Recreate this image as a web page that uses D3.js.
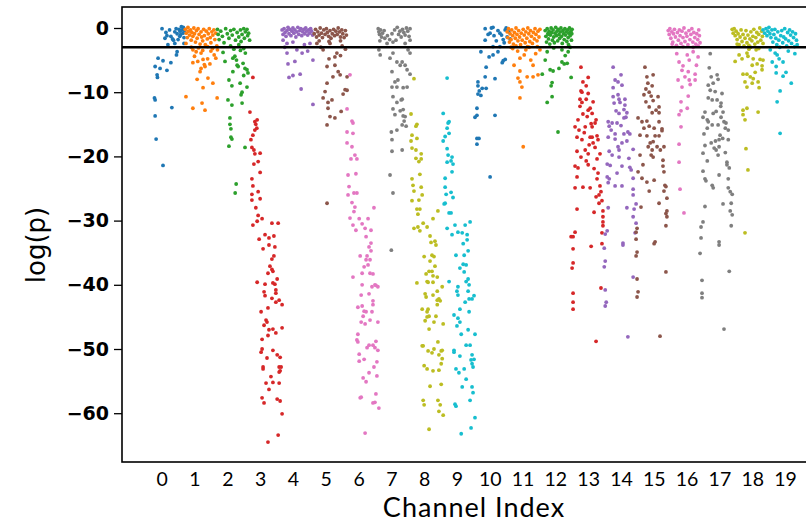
<!DOCTYPE html>
<html>
<head>
<meta charset="utf-8">
<script src="https://cdn.jsdelivr.net/npm/d3@7"></script>
<style>
  body { margin: 0; background: #fff; }
</style>
</head>
<body>
<svg id="chart" width="806" height="523"></svg>
<script>
// points per channel: [horizontal jitter around the channel, log(p)]
const ch0 = [[0.01,-0.1],[0.13,-0.7],[0.10,-1.6],[0.16,-1.2],[0.28,-1.3],[0.40,-0.6],[0.47,-0.9],[0.53,-0.2],[0.56,-0.5],[0.58,-1.0],[0.60,0.2],[0.62,-0.3],[0.65,-0.8],[0.68,-1.5],[0.50,-1.8],[0.44,-0.1],[0.36,-1.9],[0.70,-0.4],[0.66,0.1],[0.55,-1.3],[0.19,-2.6],[0.40,-2.4],[0.68,-2.4],[0.47,-3.7],[0.45,-4.2],[-0.11,-4.7],[0.04,-5.1],[0.28,-5.4],[-0.2,-6.0],[-0.05,-6.3],[0.16,-6.6],[-0.14,-7.3],[-0.13,-7.7],[-0.22,-10.9],[-0.2,-11.2],[0.31,-12.4],[-0.2,-13.7],[-0.17,-17.3],[0.04,-21.4],[0.24,-0.3],[0.33,-1.7]]
const ch1 = [[-0.28,-0.2],[-0.25,-0.8],[-0.22,-1.5],[-0.2,0.1],[-0.18,-0.5],[-0.15,-1.1],[-0.12,-0.3],[-0.1,-1.9],[-0.08,-0.7],[-0.05,-1.3],[-0.02,0.0],[0.0,-0.9],[0.03,-2.2],[0.06,-0.4],[0.08,-1.6],[0.11,-0.1],[0.14,-1.0],[0.17,-2.5],[0.2,-0.6],[0.22,-1.4],[0.25,-2.0],[0.28,-0.2],[0.3,-1.2],[0.33,-2.6],[0.36,-0.5],[0.39,-1.7],[0.42,-0.9],[0.45,-0.1],[0.48,-1.5],[0.5,-2.3],[0.53,-0.6],[0.56,-1.1],[0.59,-0.3],[0.62,-1.8],[0.65,-0.8],[0.68,-2.8],[-0.26,-2.4],[-0.1,-3.0],[0.12,-3.1],[0.4,-2.9],[-0.05,-3.4],[0.05,-3.7],[0.2,-3.9],[0.25,-3.5],[0.5,-3.6],[0.6,-4.2],[0.65,-4.7],[0.26,-4.9],[0.4,-4.8],[-0.05,-5.4],[0.1,-5.2],[0.47,-5.6],[0.32,-6.0],[0.2,-6.3],[0.17,-6.8],[0.08,-8.0],[0.41,-7.8],[0.56,-8.6],[0.26,-9.3],[-0.26,-10.7],[0.69,-10.9],[0.23,-11.7],[-0.05,-12.5],[0.32,-12.8],[0.3,-5.7],[0.0,-4.4],[0.55,-3.2],[0.7,-3.4]]
const ch2 = [[-0.3,-0.2],[-0.28,-1.0],[-0.25,-1.8],[-0.2,-0.5],[-0.15,-1.3],[-0.1,-2.3],[-0.05,-0.1],[0.0,-0.9],[0.05,-1.6],[0.1,-0.4],[0.15,-1.1],[0.2,-0.2],[0.25,-1.9],[0.3,-0.7],[0.35,-1.4],[0.4,-0.3],[0.42,-2.1],[0.45,-1.0],[0.5,-0.1],[0.52,-1.6],[0.55,-0.6],[0.6,-0.2],[0.62,-1.2],[0.65,-0.8],[0.68,-1.9],[0.35,-2.6],[0.1,-2.8],[-0.13,-3.8],[0.5,-3.2],[0.4,-3.5],[0.55,-3.9],[0.17,-4.7],[0.23,-4.4],[-0.07,-5.2],[0.28,-5.0],[0.33,-6.0],[0.48,-5.5],[0.54,-6.3],[0.6,-6.5],[0.63,-7.0],[0.17,-6.8],[0.3,-5.8],[0.05,-8.1],[0.14,-9.0],[0.39,-8.6],[0.6,-9.2],[0.45,-10.0],[0.42,-10.4],[0.02,-11.2],[0.14,-12.0],[0.45,-11.7],[0.08,-14.0],[0.08,-15.0],[0.11,-15.7],[0.11,-17.0],[0.14,-17.3],[0.05,-18.4],[0.54,-18.6],[0.27,-24.3],[0.24,-25.7],[0.5,-7.4],[0.2,-3.3]]
const ch3 = [[-0.22,-7.7],[-0.31,-13.1],[-0.16,-14.6],[-0.09,-14.3],[-0.13,-15.0],[-0.16,-15.9],[-0.1,-15.6],[-0.22,-16.7],[-0.28,-17.4],[-0.25,-18.6],[-0.19,-19.0],[-0.16,-19.6],[0.0,-19.5],[-0.06,-20.8],[-0.19,-21.2],[0.0,-22.5],[-0.25,-23.5],[-0.22,-24.6],[-0.06,-25.5],[-0.25,-25.9],[-0.25,-26.8],[0.0,-26.6],[-0.13,-28.0],[-0.06,-29.2],[0.06,-29.7],[-0.09,-30.1],[-0.22,-30.7],[0.36,-30.4],[0.55,-30.4],[-0.03,-32.9],[0.27,-32.7],[0.15,-32.2],[0.42,-32.4],[0.27,-33.8],[0.09,-34.4],[0.45,-34.1],[0.42,-35.5],[0.36,-36.0],[0.3,-37.1],[0.39,-37.9],[0.24,-38.2],[0.36,-37.6],[0.52,-39.1],[-0.09,-39.6],[0.15,-39.9],[0.45,-39.9],[0.39,-39.7],[0.48,-40.8],[0.12,-41.1],[0.48,-41.3],[0.15,-41.7],[0.36,-42.1],[0.58,-42.4],[0.48,-42.7],[0.67,-43.1],[0.24,-43.6],[0.03,-44.2],[0.18,-45.5],[0.21,-45.8],[0.12,-46.3],[0.27,-47.0],[0.39,-46.9],[0.67,-46.7],[0.48,-47.5],[0.24,-47.9],[0.06,-48.5],[0.06,-50.0],[0.39,-50.2],[0.03,-50.5],[0.52,-50.9],[0.61,-51.3],[0.21,-51.4],[0.09,-52.8],[0.09,-53.1],[0.58,-52.8],[0.64,-52.8],[0.61,-53.4],[0.58,-53.6],[0.33,-54.3],[0.18,-55.3],[0.39,-55.2],[0.58,-55.3],[0.27,-56.3],[0.06,-57.6],[0.52,-57.8],[0.61,-58.1],[0.12,-58.4],[0.67,-60.1],[0.55,-63.4],[0.24,-64.5]]
const ch4 = [[-0.33,-0.3],[-0.3,-1.0],[-0.27,-0.1],[-0.24,-0.7],[-0.21,-1.3],[-0.18,-0.4],[-0.15,0.1],[-0.12,-0.9],[-0.09,-0.2],[-0.06,-1.2],[-0.03,-0.5],[0.0,0.0],[0.03,-0.8],[0.06,-0.3],[0.09,-1.4],[0.12,-0.6],[0.15,0.1],[0.18,-1.0],[0.21,-0.4],[0.24,-0.1],[0.27,-1.2],[0.3,-0.6],[0.33,-0.2],[0.36,-0.9],[0.39,0.0],[0.42,-0.5],[0.45,-1.1],[0.48,-0.3],[0.51,-0.8],[0.54,-0.1],[0.57,-0.5],[0.6,-1.1],[-0.18,-2.4],[0.0,-2.2],[-0.18,-3.9],[0.12,-3.4],[0.28,-3.9],[0.52,-2.4],[0.45,-3.6],[0.61,-5.0],[0.06,-5.2],[-0.15,-5.6],[0.22,-7.2],[0.0,-7.4],[-0.12,-7.7],[0.25,-9.5],[0.61,-11.9],[0.35,-2.6],[-0.3,-1.9],[-0.25,-3.0]]
const ch5 = [[-0.35,-0.9],[-0.31,-0.2],[-0.28,-1.4],[-0.24,-0.6],[-0.2,-1.1],[-0.17,0.0],[-0.13,-0.8],[-0.1,-1.5],[-0.06,-0.3],[-0.02,-1.0],[0.02,-0.1],[0.05,-0.7],[0.09,-1.3],[0.13,-0.4],[0.16,-1.6],[0.2,-0.9],[0.24,-0.2],[0.27,-1.2],[0.31,-0.5],[0.35,-1.0],[0.38,0.0],[0.42,-0.6],[0.45,-1.4],[0.49,-0.3],[0.52,-0.9],[0.56,-1.5],[0.6,-0.4],[0.63,-1.1],[0.45,-2.0],[0.1,-2.1],[-0.27,-2.4],[0.13,-2.4],[-0.08,-3.4],[0.34,-3.9],[0.28,-4.5],[0.04,-6.0],[0.28,-5.8],[0.38,-6.8],[0.22,-7.6],[0.44,-7.3],[0.65,-7.6],[0.04,-8.6],[-0.02,-9.9],[0.53,-10.3],[0.65,-9.7],[-0.08,-10.9],[0.19,-11.2],[0.07,-11.6],[0.07,-12.5],[0.47,-13.0],[0.13,-13.8],[0.28,-14.0],[0.04,-15.1],[0.59,-9.6],[0.04,-27.3],[-0.2,-2.0],[0.5,-2.8],[0.1,-4.8],[-0.15,-3.0],[0.45,-4.3],[0.6,-3.3]]
const ch6 = [[-0.26,-7.3],[-0.35,-12.6],[-0.2,-14.5],[-0.17,-14.8],[-0.35,-16.2],[-0.17,-16.4],[-0.35,-17.9],[-0.2,-18.5],[-0.11,-19.8],[-0.05,-20.4],[-0.23,-20.4],[-0.32,-22.9],[-0.08,-22.7],[-0.29,-24.7],[-0.14,-25.7],[-0.05,-25.7],[-0.32,-26.0],[-0.2,-27.2],[-0.11,-27.9],[-0.14,-28.6],[0.47,-28.0],[-0.26,-29.6],[0.02,-29.7],[0.29,-29.7],[-0.17,-30.7],[0.11,-30.5],[-0.08,-31.5],[0.2,-31.2],[0.38,-31.5],[0.23,-32.5],[0.38,-33.5],[0.32,-34.1],[0.38,-34.7],[0.05,-35.5],[0.26,-35.5],[0.23,-36.1],[0.35,-36.1],[0.17,-37.2],[0.29,-36.9],[0.11,-38.2],[0.35,-38.2],[0.44,-38.3],[-0.17,-38.8],[0.11,-40.0],[0.5,-40.0],[0.59,-40.3],[0.41,-40.3],[0.53,-40.1],[0.08,-41.6],[0.32,-41.4],[0.44,-42.5],[-0.02,-43.5],[0.11,-43.3],[0.44,-43.1],[0.17,-44.1],[0.23,-44.2],[0.14,-44.9],[0.41,-44.2],[0.08,-45.8],[0.35,-45.5],[0.2,-46.1],[0.59,-45.8],[-0.02,-47.7],[-0.05,-48.6],[-0.02,-48.9],[0.32,-49.4],[0.44,-49.4],[0.53,-48.8],[0.26,-49.8],[0.5,-49.8],[0.59,-50.2],[0.02,-50.8],[0.17,-51.6],[0.02,-51.9],[0.56,-52.0],[0.47,-52.8],[0.32,-53.7],[0.56,-54.2],[0.14,-54.5],[0.23,-55.1],[0.05,-57.6],[0.08,-57.5],[0.53,-57.0],[0.5,-58.3],[0.44,-58.4],[0.62,-59.2],[0.2,-63.1]]
const ch7 = [[-0.4,-0.1],[-0.38,-0.6],[-0.36,-1.0],[-0.33,-0.3],[-0.3,-1.4],[-0.27,-0.8],[-0.2,-1.6],[-0.12,-1.2],[-0.05,-1.8],[0.02,-0.9],[0.1,-0.3],[0.18,0.1],[0.22,-1.0],[0.26,-0.5],[0.3,-1.4],[0.34,-0.2],[0.38,-0.7],[0.42,-1.1],[0.46,0.0],[0.5,-0.5],[0.54,-1.3],[0.57,-0.1],[-0.22,-0.4],[0.14,-1.9],[-0.35,-2.0],[-0.13,-2.4],[0.05,-2.2],[0.42,-2.4],[0.57,-1.9],[-0.38,-3.4],[0.05,-3.9],[-0.34,-4.2],[0.51,-3.4],[0.57,-3.9],[-0.04,-4.7],[0.17,-5.3],[0.33,-5.3],[0.27,-5.8],[0.42,-5.8],[0.48,-6.5],[0.02,-6.8],[0.57,-7.2],[0.2,-8.1],[0.11,-8.4],[0.17,-9.2],[0.02,-9.2],[0.36,-9.3],[0.48,-9.2],[0.05,-10.7],[0.33,-11.1],[0.17,-11.6],[0.3,-11.2],[0.36,-12.7],[0.05,-12.6],[0.27,-12.9],[0.11,-13.5],[0.42,-13.8],[0.36,-13.7],[0.39,-14.5],[0.33,-15.1],[0.45,-15.3],[0.17,-15.9],[0.0,-16.2],[0.02,-17.4],[0.02,-19.2],[0.33,-19.0],[-0.04,-22.9],[0.05,-25.7],[0.0,-34.6]]
const ch8 = [[-0.31,-7.9],[-0.4,-13.4],[-0.22,-15.0],[-0.25,-15.3],[-0.37,-16.7],[-0.22,-17.2],[-0.4,-17.6],[-0.37,-18.7],[-0.25,-19.0],[-0.09,-19.6],[-0.25,-20.3],[-0.16,-20.8],[-0.09,-20.4],[-0.13,-22.8],[-0.37,-23.5],[-0.34,-24.5],[-0.09,-24.8],[-0.31,-25.4],[-0.06,-26.0],[-0.37,-26.9],[-0.16,-26.8],[-0.22,-28.2],[-0.13,-28.2],[0.42,-28.5],[0.27,-29.7],[-0.19,-29.0],[-0.31,-31.2],[-0.19,-31.0],[-0.03,-30.4],[0.09,-31.0],[-0.13,-31.6],[0.18,-32.4],[0.33,-33.2],[0.21,-33.4],[0.36,-33.8],[0.24,-35.4],[0.0,-35.6],[0.3,-35.6],[0.18,-36.3],[0.33,-37.1],[0.15,-37.9],[0.24,-37.9],[0.06,-38.3],[0.27,-38.6],[0.4,-38.8],[0.12,-39.6],[0.27,-39.6],[-0.22,-39.7],[0.09,-39.5],[0.55,-40.3],[0.4,-41.0],[0.03,-41.4],[0.27,-41.6],[0.45,-42.2],[0.06,-41.9],[0.4,-42.4],[0.49,-42.5],[0.4,-43.1],[-0.06,-43.8],[0.09,-44.2],[0.12,-43.8],[0.09,-45.0],[0.15,-44.9],[0.36,-44.9],[0.03,-45.6],[0.3,-45.8],[0.58,-46.1],[0.15,-46.9],[0.42,-48.9],[-0.06,-49.5],[-0.03,-49.5],[0.12,-50.3],[0.24,-50.6],[0.3,-50.0],[0.52,-50.3],[0.55,-50.2],[0.45,-50.9],[0.55,-51.5],[0.52,-52.3],[0.0,-52.6],[0.09,-53.1],[0.27,-53.4],[0.45,-53.3],[0.18,-55.8],[0.52,-55.5],[-0.03,-58.0],[0.42,-58.0],[0.0,-58.7],[0.49,-58.7],[0.45,-59.7],[0.58,-60.3],[0.15,-62.5]]
const ch9 = [[-0.3,-7.8],[-0.42,-13.3],[-0.27,-14.8],[-0.24,-14.6],[-0.3,-15.6],[-0.24,-16.4],[-0.36,-16.9],[-0.42,-17.6],[-0.3,-18.8],[-0.27,-19.8],[-0.15,-20.1],[-0.3,-20.9],[-0.18,-20.7],[-0.12,-21.2],[-0.15,-22.4],[-0.36,-23.4],[-0.36,-24.8],[-0.18,-25.6],[-0.33,-25.9],[-0.12,-26.4],[-0.36,-27.3],[-0.39,-27.4],[-0.24,-28.8],[-0.18,-28.8],[-0.3,-31.2],[-0.06,-30.7],[0.25,-30.7],[0.4,-30.2],[0.03,-31.8],[0.16,-31.9],[0.31,-32.2],[-0.15,-32.2],[0.31,-33.0],[0.19,-33.6],[0.34,-34.7],[-0.03,-35.4],[0.22,-35.4],[0.19,-36.8],[0.28,-36.9],[0.09,-37.4],[0.22,-38.0],[0.34,-39.1],[0.28,-39.5],[-0.24,-39.5],[0.03,-40.3],[0.0,-41.0],[0.37,-40.0],[0.34,-41.0],[0.03,-41.6],[0.52,-41.7],[0.46,-42.2],[0.37,-42.2],[0.25,-42.7],[0.09,-43.8],[0.37,-44.2],[-0.09,-44.7],[0.03,-45.2],[0.09,-45.8],[0.0,-46.4],[0.34,-47.0],[0.13,-47.7],[0.55,-47.7],[0.28,-49.4],[0.4,-49.4],[-0.09,-50.2],[-0.09,-50.5],[0.09,-51.1],[0.46,-50.9],[0.43,-51.7],[0.52,-51.6],[0.46,-52.3],[0.49,-52.8],[-0.03,-53.1],[0.22,-53.1],[0.06,-53.7],[0.28,-54.7],[0.16,-55.9],[0.46,-55.9],[0.49,-56.8],[0.4,-58.0],[-0.06,-58.6],[-0.03,-58.9],[0.55,-60.7],[0.43,-62.3],[0.13,-63.2]]
const ch10 = [[-0.14,-0.1],[0.1,0.1],[-0.05,-1.0],[0.13,-1.2],[-0.14,-1.9],[0.01,-0.8],[0.31,-0.8],[0.47,-0.3],[0.53,-1.4],[0.41,-1.8],[0.25,-0.4],[0.36,-1.1],[0.58,-0.6],[0.62,-1.7],[0.2,-2.0],[0.44,-2.3],[0.5,0.0],[0.05,0.0],[0.31,-2.9],[-0.27,-3.7],[0.1,-2.9],[0.25,-3.7],[0.1,-4.2],[-0.02,-4.5],[0.47,-4.9],[0.41,-5.1],[0.38,-5.4],[-0.11,-6.1],[-0.14,-7.6],[0.16,-7.9],[-0.36,-8.4],[-0.36,-9.0],[-0.23,-9.4],[-0.11,-9.4],[-0.36,-10.3],[-0.27,-10.5],[-0.32,-9.8],[-0.39,-12.5],[0.16,-13.6],[-0.39,-13.6],[-0.45,-13.9],[-0.39,-17.2],[-0.33,-17.2],[-0.39,-18.1],[0.01,-23.2]]
const ch11 = [[-0.47,-0.6],[-0.45,-1.5],[-0.43,-0.1],[-0.4,-2.2],[-0.38,-0.9],[-0.35,-1.8],[-0.33,-0.3],[-0.3,-1.2],[-0.28,-2.5],[-0.25,-0.7],[-0.22,-1.6],[-0.2,0.0],[-0.17,-1.0],[-0.14,-2.0],[-0.12,-0.4],[-0.09,-1.4],[-0.06,-2.6],[-0.04,-0.8],[-0.01,-1.9],[0.02,-0.2],[0.05,-1.1],[0.08,-2.3],[0.1,-0.6],[0.13,-1.6],[0.16,0.0],[0.19,-0.9],[0.22,-2.1],[0.24,-0.4],[0.27,-1.3],[0.3,-2.4],[0.33,-0.7],[0.36,-1.7],[0.38,-0.1],[0.41,-1.0],[0.44,-2.0],[0.47,-0.5],[0.5,-1.4],[0.53,-0.2],[-0.2,-2.8],[0.15,-2.9],[-0.26,-5.8],[-0.14,-7.8],[-0.08,-8.4],[-0.02,-9.2],[-0.08,-10.9],[0.14,-7.6],[0.32,-7.6],[0.47,-7.3],[0.32,-5.8],[-0.08,-4.7],[0.05,-4.2],[0.1,-3.4],[0.53,-3.4],[-0.08,-6.7],[0.02,-18.5],[-0.3,-3.2],[-0.15,-3.6],[0.2,-3.0],[0.4,-4.0],[0.25,-5.0],[-0.35,-3.0],[0.45,-2.9]]
const ch12 = [[-0.31,-0.4],[-0.29,-1.3],[-0.27,-2.2],[-0.25,-0.1],[-0.23,-0.9],[-0.21,-1.7],[-0.19,-0.5],[-0.17,-2.5],[-0.15,-1.1],[-0.13,0.0],[-0.11,-0.7],[-0.09,-1.9],[-0.07,-0.3],[-0.05,-1.4],[-0.03,-2.3],[-0.01,-0.8],[0.01,0.1],[0.03,-1.2],[0.05,-0.5],[0.07,-2.0],[0.09,-0.2],[0.11,-1.0],[0.13,-1.6],[0.15,-0.6],[0.17,0.0],[0.19,-1.3],[0.21,-2.4],[0.23,-0.4],[0.25,-0.9],[0.27,-1.8],[0.29,-0.1],[0.31,-1.1],[0.33,-0.6],[0.35,-2.1],[0.37,-0.3],[0.39,-1.5],[0.41,-0.8],[0.43,0.0],[0.45,-1.2],[0.47,-0.5],[0.49,-1.9],[0.51,-0.2],[0.5,-0.9],[0.4,-2.6],[-0.2,-1.0],[-0.31,-5.0],[-0.25,-3.7],[0.2,-3.4],[0.39,-3.7],[0.2,-5.3],[0.27,-5.6],[0.36,-5.5],[0.11,-6.3],[-0.16,-6.5],[-0.07,-6.7],[-0.4,-7.2],[0.48,-7.7],[-0.1,-8.5],[-0.13,-9.0],[-0.1,-10.7],[-0.25,-11.6],[0.08,-16.2],[0.3,-4.3],[-0.05,-3.1],[0.45,-3.0]]
const ch13 = [[-0.22,-6.1],[0.0,-7.7],[-0.16,-8.4],[-0.06,-9.0],[-0.22,-9.8],[-0.19,-10.0],[0.0,-10.2],[-0.06,-11.1],[-0.25,-11.1],[-0.19,-11.6],[0.15,-11.5],[0.0,-12.8],[0.06,-12.5],[0.12,-13.3],[-0.16,-13.4],[-0.31,-14.3],[-0.03,-13.8],[0.24,-14.3],[-0.4,-15.4],[-0.28,-15.9],[-0.09,-15.4],[0.12,-15.4],[0.21,-14.8],[-0.34,-17.0],[-0.19,-17.4],[0.06,-17.0],[0.12,-17.0],[0.27,-16.8],[0.3,-17.4],[0.15,-17.9],[-0.34,-19.2],[-0.09,-19.0],[0.0,-19.6],[0.21,-18.6],[0.36,-19.6],[-0.06,-20.7],[0.27,-20.4],[0.0,-21.3],[-0.4,-21.5],[-0.31,-21.8],[0.3,-22.6],[0.27,-23.5],[-0.34,-23.2],[-0.4,-24.9],[-0.16,-24.8],[0.06,-24.9],[0.36,-24.6],[0.33,-26.0],[0.39,-25.5],[0.33,-27.3],[0.42,-26.9],[-0.34,-28.2],[0.18,-28.7],[0.45,-28.5],[0.45,-29.4],[0.45,-30.2],[0.45,-30.8],[-0.4,-31.8],[-0.52,-32.5],[-0.46,-32.5],[0.42,-31.9],[0.09,-34.0],[0.42,-33.6],[-0.46,-34.4],[-0.46,-36.6],[-0.49,-37.4],[0.39,-40.5],[-0.46,-41.3],[-0.46,-42.7],[-0.46,-43.8],[0.24,-48.8],[-0.25,-12.2],[0.09,-14.9],[-0.12,-16.3],[0.03,-18.2],[0.18,-21.9],[-0.22,-20.1],[0.24,-26.3]]
const ch14 = [[-0.24,-6.1],[0.0,-7.3],[-0.18,-8.1],[-0.09,-8.4],[-0.24,-9.3],[0.03,-8.9],[-0.24,-10.7],[-0.09,-10.4],[-0.06,-11.1],[-0.21,-11.7],[-0.03,-11.6],[0.12,-11.1],[0.12,-12.0],[-0.15,-12.9],[-0.06,-13.3],[0.09,-12.7],[0.18,-13.2],[-0.39,-14.6],[-0.27,-14.8],[-0.36,-15.3],[-0.12,-14.8],[0.09,-14.0],[0.15,-13.9],[-0.3,-15.9],[-0.18,-16.5],[0.09,-16.5],[0.21,-16.2],[0.27,-16.5],[-0.39,-17.0],[-0.18,-17.3],[0.03,-17.9],[-0.09,-18.5],[0.18,-17.6],[-0.36,-19.2],[0.37,-18.9],[-0.06,-19.0],[-0.06,-20.1],[-0.42,-21.2],[-0.33,-21.4],[0.03,-21.5],[0.27,-21.7],[0.31,-22.1],[0.37,-23.4],[-0.42,-23.2],[-0.36,-23.5],[-0.39,-24.1],[-0.18,-24.6],[0.03,-24.6],[0.37,-25.1],[0.37,-26.0],[-0.39,-28.0],[0.18,-28.0],[0.4,-28.2],[0.46,-27.4],[0.37,-29.4],[0.46,-30.4],[0.43,-31.9],[-0.48,-32.1],[-0.42,-31.6],[0.06,-33.5],[0.06,-33.8],[-0.51,-34.3],[-0.48,-36.3],[-0.51,-37.2],[0.37,-38.8],[-0.48,-40.8],[-0.45,-42.7],[-0.48,-43.3],[0.21,-48.1],[0.0,-15.2],[-0.27,-19.8],[0.24,-20.3],[-0.12,-22.6]]
const ch15 = [[-0.27,-6.1],[-0.21,-7.6],[-0.02,-7.3],[-0.18,-8.6],[-0.05,-9.0],[-0.24,-9.5],[-0.14,-10.0],[-0.3,-10.4],[-0.08,-10.6],[0.13,-10.7],[-0.24,-11.5],[-0.02,-11.3],[-0.14,-12.3],[0.07,-12.8],[0.16,-12.3],[-0.05,-13.2],[0.16,-13.2],[-0.48,-14.0],[-0.36,-14.6],[-0.21,-14.5],[-0.14,-15.3],[0.01,-15.6],[0.16,-14.6],[0.25,-15.7],[-0.3,-15.6],[-0.42,-16.7],[-0.21,-16.8],[0.04,-16.8],[0.16,-16.8],[0.25,-16.0],[-0.11,-17.9],[-0.02,-17.7],[-0.17,-18.5],[-0.05,-19.0],[0.1,-18.5],[0.2,-19.0],[0.31,-18.5],[-0.42,-19.8],[-0.08,-19.8],[-0.02,-20.1],[0.28,-20.6],[-0.33,-21.3],[0.28,-21.5],[-0.48,-22.4],[0.31,-22.4],[-0.36,-23.4],[-0.21,-24.0],[0.01,-23.7],[0.34,-24.5],[0.37,-24.7],[-0.14,-25.4],[0.31,-25.4],[0.4,-26.5],[-0.39,-27.9],[0.16,-27.3],[0.4,-28.5],[0.37,-28.9],[0.4,-29.4],[0.37,-30.8],[-0.51,-31.2],[-0.54,-31.8],[-0.54,-32.9],[0.04,-33.3],[0.01,-33.6],[-0.51,-34.9],[-0.54,-35.5],[0.37,-38.0],[-0.51,-39.1],[-0.48,-41.1],[-0.51,-41.9],[0.19,-48.0]]
const ch16 = [[-0.56,-0.4],[-0.53,-1.0],[-0.51,-0.1],[-0.48,-1.6],[-0.45,-0.6],[-0.42,-2.2],[-0.4,-0.9],[-0.37,-0.2],[-0.34,-1.4],[-0.31,-2.7],[-0.28,-0.7],[-0.25,-1.9],[-0.22,-0.3],[-0.2,-1.2],[-0.17,-2.4],[-0.14,-0.5],[-0.11,-1.5],[-0.08,0.0],[-0.05,-2.1],[-0.02,-0.8],[0.01,-1.3],[0.04,-2.6],[0.07,-0.4],[0.1,-1.8],[0.13,-1.0],[0.16,-0.1],[0.19,-2.2],[0.22,-0.7],[0.25,-1.5],[0.28,-2.5],[0.31,-0.9],[0.34,-1.8],[0.37,-0.3],[0.39,-1.2],[0.41,-2.3],[-0.44,-2.5],[-0.11,-2.9],[0.2,-3.0],[0.02,-4.2],[0.2,-3.7],[0.35,-4.5],[-0.23,-5.3],[0.08,-5.0],[-0.11,-5.9],[-0.14,-6.6],[0.05,-6.8],[0.26,-7.2],[-0.26,-8.1],[0.08,-8.1],[0.26,-8.1],[-0.14,-9.2],[0.11,-8.8],[0.05,-10.6],[-0.17,-11.5],[0.02,-12.5],[-0.17,-12.9],[-0.23,-13.5],[-0.17,-15.4],[-0.23,-18.1],[-0.23,-20.9],[-0.2,-25.1],[-0.08,-28.8],[0.3,-5.8],[-0.3,-4.0],[0.35,-2.8],[-0.05,-7.6]]
const ch17 = [[-0.28,-4.0],[-0.31,-6.2],[-0.25,-7.6],[-0.07,-7.3],[-0.04,-8.0],[-0.34,-8.9],[-0.19,-8.6],[-0.28,-9.7],[-0.13,-9.9],[0.08,-10.2],[-0.34,-10.9],[-0.22,-11.2],[-0.07,-11.2],[0.05,-11.7],[0.04,-12.2],[-0.44,-13.1],[-0.19,-13.3],[-0.1,-13.0],[0.11,-13.1],[-0.5,-13.9],[-0.37,-14.3],[-0.34,-14.6],[0.05,-13.9],[0.14,-14.6],[-0.22,-15.1],[-0.04,-15.1],[0.2,-14.8],[-0.37,-15.6],[0.18,-15.6],[0.27,-15.9],[-0.47,-16.5],[0.02,-16.7],[0.1,-17.2],[-0.12,-17.6],[0.27,-17.4],[-0.25,-17.9],[-0.01,-17.4],[-0.16,-18.7],[-0.1,-19.0],[-0.01,-18.5],[-0.44,-18.3],[-0.04,-19.8],[0.18,-19.4],[-0.5,-19.5],[-0.37,-20.7],[0.23,-20.9],[0.23,-21.3],[0.3,-21.8],[-0.5,-22.3],[-0.44,-23.5],[-0.01,-22.9],[-0.41,-23.8],[0.27,-23.5],[-0.19,-24.9],[-0.22,-24.5],[0.27,-24.9],[0.33,-25.5],[0.39,-25.9],[0.11,-27.4],[0.36,-27.3],[-0.44,-27.8],[0.33,-28.5],[0.39,-29.1],[-0.5,-30.2],[-0.56,-31.0],[0.36,-30.8],[-0.56,-32.7],[-0.01,-33.3],[-0.01,-33.8],[-0.59,-35.1],[0.3,-37.9],[-0.53,-39.3],[-0.53,-41.3],[-0.53,-42.0],[0.14,-46.9]]
const ch18 = [[-0.61,-0.2],[-0.58,-0.8],[-0.55,-0.1],[-0.52,-1.2],[-0.49,-0.5],[-0.46,-1.8],[-0.43,-0.9],[-0.4,-2.6],[-0.37,-1.4],[-0.34,-0.3],[-0.31,-2.1],[-0.28,-1.0],[-0.25,-2.8],[-0.22,-1.6],[-0.19,-0.4],[-0.16,-2.3],[-0.13,-1.1],[-0.1,-2.7],[-0.07,-1.7],[-0.04,-0.6],[-0.01,-2.0],[0.02,-1.3],[0.05,-0.2],[0.08,-2.5],[0.11,-1.5],[0.14,-0.7],[0.17,-2.2],[0.2,-1.0],[0.23,0.0],[0.26,-1.9],[0.29,-0.5],[0.31,-1.3],[0.33,-2.4],[-0.05,-3.0],[0.12,-3.4],[-0.46,-2.5],[-0.4,-4.2],[-0.31,-4.8],[-0.16,-3.9],[0.03,-4.8],[0.15,-5.6],[0.0,-5.8],[0.09,-6.9],[0.24,-4.9],[0.3,-5.9],[-0.28,-7.2],[-0.16,-7.2],[-0.06,-7.6],[-0.22,-8.4],[0.03,-7.9],[-0.16,-9.2],[0.0,-8.6],[0.18,-8.4],[0.21,-9.3],[-0.52,-5.2],[-0.13,-4.4],[0.33,-5.0],[-0.28,-12.8],[-0.16,-12.5],[-0.28,-13.5],[-0.22,-14.3],[0.18,-13.1],[-0.19,-18.8],[-0.13,-22.1],[-0.22,-31.9],[0.3,-6.5],[-0.1,-3.3],[0.2,-3.2]]
const ch19 = [[-0.67,-0.3],[-0.62,-0.8],[-0.58,-0.1],[-0.55,-1.2],[-0.52,-0.5],[-0.49,0.1],[-0.46,-0.9],[-0.43,-1.5],[-0.4,-0.3],[-0.37,-2.2],[-0.34,-1.0],[-0.31,-0.2],[-0.28,-1.6],[-0.25,-2.6],[-0.22,-0.6],[-0.19,-1.9],[-0.16,-3.0],[-0.13,-1.2],[-0.1,-0.4],[-0.07,-2.3],[-0.04,-1.4],[-0.01,-0.1],[0.02,-1.7],[0.05,-2.8],[0.08,-0.7],[0.11,-2.0],[0.14,-0.3],[0.17,-1.1],[0.2,-2.4],[0.23,-0.6],[0.26,-1.5],[0.29,-2.9],[0.32,-0.9],[0.35,-1.9],[0.37,-2.6],[-0.24,-4.2],[-0.18,-4.8],[-0.06,-5.3],[-0.39,-5.3],[-0.3,-3.9],[-0.27,-6.0],[-0.27,-7.0],[0.03,-6.9],[-0.06,-7.5],[0.19,-8.6],[-0.15,-9.8],[-0.24,-11.5],[-0.15,-16.4],[0.1,-3.6],[0.3,-4.0],[-0.45,-3.4]]

const channels = [ch0, ch1, ch2, ch3, ch4, ch5, ch6, ch7, ch8, ch9,
                  ch10, ch11, ch12, ch13, ch14, ch15, ch16, ch17, ch18, ch19]

// matplotlib tab10, qui boucle après 10 canaux
const colors = ['#1f77b4', '#ff7f0e', '#2ca02c', '#d62728', '#9467bd',
                '#8c564b', '#e377c2', '#7f7f7f', '#bcbd22', '#17becf']

const xTicks = d3.range(0, 20)
const yTicks = [0, -10, -20, -30, -40, -50, -60]
const threshold = -3

const svg = d3.select('#chart')

// cadre du graphe (pas "top" : déjà pris par window.top)
const plotLeft = 122, plotRight = 807, plotTop = 7, plotBottom = 462

const x = d3.scaleLinear().domain([-1.21, 19.67]).range([plotLeft, plotRight])
const y = d3.scaleLinear().domain([-67.6, 3.27]).range([plotBottom, plotTop])

// --- POINTS ---
channels.forEach((pts, i) => {
    svg.append('g')
        .selectAll('circle')
        .data(pts)
        .join('circle')
        .attr('cx', d => x(i + d[0]))
        .attr('cy', d => y(d[1]))
        .attr('r', 1.9)
        .attr('fill', colors[i % 10])
})

// ligne de seuil
svg.append('line')
    .attr('x1', plotLeft).attr('x2', plotRight)
    .attr('y1', y(threshold)).attr('y2', y(threshold))
    .attr('stroke', '#000')
    .attr('stroke-width', 2.6)

// --- AXES ---
const yAxis = svg.append('g')
    .attr('transform', `translate(${plotLeft},0)`)
    .call(d3.axisLeft(y).tickValues(yTicks).tickSize(8).tickPadding(5))
yAxis.select('.domain').remove()
yAxis.selectAll('line').attr('stroke', '#000').attr('stroke-width', 1.3)
yAxis.selectAll('text')
    .attr('font-family', '"DejaVu Sans", sans-serif')
    .attr('font-weight', 'bold')
    .attr('font-size', 19)
    .attr('fill', '#000')

const xAxis = svg.append('g')
    .attr('transform', `translate(0,${plotBottom})`)
    .call(d3.axisBottom(x).tickValues(xTicks).tickSize(0).tickPadding(10))
xAxis.select('.domain').remove()
xAxis.selectAll('text')
    .attr('font-family', 'Lato, sans-serif')
    .attr('font-size', 19.5)
    .attr('fill', '#000')

svg.append('rect')
    .attr('x', plotLeft).attr('y', plotTop)
    .attr('width', plotRight - plotLeft).attr('height', plotBottom - plotTop)
    .attr('fill', 'none')
    .attr('stroke', '#000')
    .attr('stroke-width', 1.6)

// titres des axes
svg.append('text')
    .attr('x', 474).attr('y', 517)
    .attr('text-anchor', 'middle')
    .attr('font-family', 'Lato, sans-serif')
    .attr('font-size', 27)
    .attr('letter-spacing', 1)
    .attr('fill', '#000')
    .text('Channel Index')

svg.append('text')
    .attr('transform', 'translate(45,245) rotate(-90)')
    .attr('text-anchor', 'middle')
    .attr('font-family', '"DejaVu Sans", sans-serif')
    .attr('font-size', 26)
    .attr('fill', '#000')
    .text('log(p)')
</script>
</body>
</html>
